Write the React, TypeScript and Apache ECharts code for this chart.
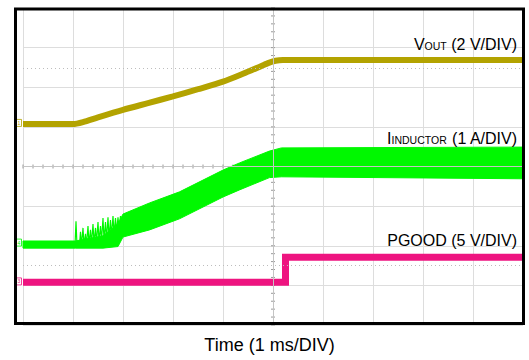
import React, { useEffect, useRef } from "react";
import * as echarts from "echarts";

// time in ms (1 ms/DIV), amplitudes in screen divisions (0 = bottom graticule line)
const voutT = [0, 1.0, 1.2, 1.5, 2.0, 2.5, 3.0, 3.5, 4.0, 4.4, 4.7, 4.9, 5.05, 5.2, 10];
const voutV = [5.07, 5.07, 5.12, 5.24, 5.43, 5.6, 5.77, 5.95, 6.14, 6.34, 6.5, 6.61, 6.67, 6.69, 6.69];

// inductor current ripple envelope
const indT = [0, 1.05, 1.6, 1.9, 2.0, 2.53, 3.13, 4.0, 4.33, 4.93, 5.17, 10];
const indLo = [1.94, 1.94, 1.94, 1.98, 2.22, 2.4, 2.68, 3.23, 3.41, 3.72, 3.74, 3.69];
const indHi = [2.12, 2.12, 2.25, 2.55, 2.8, 3.08, 3.36, 3.91, 4.09, 4.39, 4.47, 4.49];

// start-up spikes of the inductor current
const spikeT = [1.04, 1.06, 1.08, 1.13, 1.15, 1.17, 1.2, 1.22, 1.25, 1.27, 1.3, 1.32, 1.35, 1.37, 1.4, 1.42, 1.45, 1.47, 1.5, 1.52, 1.55, 1.57, 1.6, 1.62, 1.65, 1.67, 1.7, 1.72, 1.75, 1.77, 1.8, 1.82, 1.85, 1.87, 1.9, 1.92, 1.95, 1.97];
const spikeV = [2.0, 2.62, 2.0, 2.02, 2.35, 2.0, 2.45, 2.02, 2.3, 2.02, 2.5, 2.04, 2.4, 2.05, 2.55, 2.06, 2.45, 2.08, 2.6, 2.1, 2.5, 2.12, 2.7, 2.14, 2.6, 2.16, 2.72, 2.2, 2.65, 2.24, 2.75, 2.3, 2.7, 2.35, 2.72, 2.45, 2.75, 2.6];

const pgoodT = [0, 5.25, 5.25, 10];
const pgoodV = [1.08, 1.08, 1.71, 1.71];

const cursorLevels = [6.48, 1.52];
const channelLevels = { vout: 5.1, ind: 2.08, pgood: 1.1 };

const xDivs = 10;
const yDivs = 8;

const OLIVE = "#b3a300";
const GREEN = "#00f800";
const PINK = "#ee1480";
const FONT = 'Arial, "Liberation Sans", sans-serif';

function marker(level: number, label: string, color: string) {
  return {
    silent: true,
    symbol: "rect",
    symbolSize: [5, 7],
    symbolOffset: [-4, 0],
    itemStyle: { color: "#ffffff", borderColor: color, borderWidth: 0.8 },
    label: { show: true, position: "inside", formatter: label, fontSize: 5, color: color, fontFamily: FONT },
    data: [{ coord: [0, level] }],
  };
}

export default function App() {
  const ref = useRef<HTMLDivElement>(null);
  useEffect(() => {
    if (!ref.current) return;
    const chart = echarts.init(ref.current, null, { renderer: "svg" });

    const ticks: number[][] = [];
    for (let i = 0; i <= xDivs * 5; i++) ticks.push([i / 5, 0]);
    for (let i = 0; i <= yDivs * 5; i++) ticks.push([i / 5, 1]);

    const bandData = indT.map((t, i) => [t, indLo[i], indHi[i]]);

    chart.setOption({
      animation: false,
      backgroundColor: "#ffffff",
      grid: { left: 23, top: 8, width: 500, height: 317 },
      xAxis: {
        type: "value", min: 0, max: xDivs, interval: 1,
        axisLine: { show: false }, axisTick: { show: false }, axisLabel: { show: false },
        splitLine: { show: true, lineStyle: { color: "#dddddd", width: 1 } },
      },
      yAxis: {
        type: "value", min: 0, max: yDivs, interval: 1,
        axisLine: { show: false }, axisTick: { show: false }, axisLabel: { show: false },
        splitLine: { show: true, lineStyle: { color: "#dddddd", width: 1 } },
      },
      series: [
        {
          type: "line", data: [], silent: true,
          markLine: {
            silent: true, symbol: "none", label: { show: false },
            data: [
              { yAxis: cursorLevels[0], lineStyle: { type: [1, 3], color: "#bdbdbd", width: 1 } },
              { yAxis: cursorLevels[1], lineStyle: { type: [1, 3], color: "#bdbdbd", width: 1 } },
              { yAxis: yDivs / 2, lineStyle: { type: "solid", color: "#c4c4c4", width: 1 } },
              { xAxis: xDivs / 2, lineStyle: { type: "solid", color: "#c4c4c4", width: 1 } },
            ],
          },
        },
        {
          type: "custom", silent: true, data: ticks,
          renderItem: (params: any, api: any) => {
            const v = api.value(0);
            const o = api.value(1);
            if (o === 0) {
              const p = api.coord([v, yDivs / 2]);
              return { type: "line", shape: { x1: p[0], y1: p[1] - 2, x2: p[0], y2: p[1] + 2 }, style: { stroke: "#9a9a9a", lineWidth: 1 } };
            }
            const p = api.coord([xDivs / 2, v]);
            return { type: "line", shape: { x1: p[0] - 2, y1: p[1], x2: p[0] + 2, y2: p[1] }, style: { stroke: "#9a9a9a", lineWidth: 1 } };
          },
        },
        {
          type: "custom", silent: true, data: bandData,
          encode: { x: 0, y: [1, 2] },
          renderItem: (params: any, api: any) => {
            if (params.dataIndex !== 0) return null;
            const pts: number[][] = [];
            for (let i = 0; i < indT.length; i++) pts.push(api.coord([indT[i], indHi[i]]));
            for (let i = indT.length - 1; i >= 0; i--) pts.push(api.coord([indT[i], indLo[i]]));
            return { type: "polygon", shape: { points: pts }, style: { fill: GREEN, stroke: GREEN, lineWidth: 1 } };
          },
          markPoint: marker(channelLevels.ind, "4", GREEN),
        },
        {
          type: "line", silent: true, symbol: "none",
          data: spikeT.map((t, i) => [t, spikeV[i]]),
          lineStyle: { color: GREEN, width: 1.2 },
        },
        {
          type: "line", silent: true, symbol: "none",
          data: voutT.map((t, i) => [t, voutV[i]]),
          smooth: 0.25,
          lineStyle: { color: OLIVE, width: 6 },
          markPoint: marker(channelLevels.vout, "1", OLIVE),
        },
        {
          type: "line", silent: true, symbol: "none",
          data: pgoodT.map((t, i) => [t, pgoodV[i]]),
          lineStyle: { color: PINK, width: 7, cap: "butt", join: "miter" },
          markPoint: marker(channelLevels.pgood, "3", PINK),
        },
      ],
      graphic: [
        {
          type: "rect", silent: true, z: 100,
          shape: { x: 15.5, y: 9, width: 508, height: 314.5 },
          style: { fill: "none", stroke: "#000000", lineWidth: 3 },
        },
        {
          type: "text", z: 100, x: 517, y: 43,
          style: {
            text: "{a|V}{b|OUT}{a| (2 V/DIV)}",
            align: "right", verticalAlign: "middle",
            rich: {
              a: { fontSize: 16, fontFamily: FONT, fill: "#000", verticalAlign: "bottom", lineHeight: 18 },
              b: { fontSize: 10.5, fontFamily: FONT, fill: "#000", verticalAlign: "bottom", lineHeight: 18, padding: [0, 0, 1, 0] },
            },
          },
        },
        {
          type: "text", z: 100, x: 517, y: 137,
          style: {
            text: "{a|I}{b|INDUCTOR}{a| (1 A/DIV)}",
            align: "right", verticalAlign: "middle",
            rich: {
              a: { fontSize: 16, fontFamily: FONT, fill: "#000", verticalAlign: "bottom", lineHeight: 18 },
              b: { fontSize: 10.5, fontFamily: FONT, fill: "#000", verticalAlign: "bottom", lineHeight: 18, padding: [0, 0, 1, 0] },
            },
          },
        },
        {
          type: "text", z: 100, x: 517, y: 240,
          style: { text: "PGOOD (5 V/DIV)", align: "right", verticalAlign: "middle", fontSize: 16, fontFamily: FONT, fill: "#000" },
        },
        {
          type: "text", z: 100, x: 269.5, y: 345,
          style: { text: "Time (1 ms/DIV)", align: "center", verticalAlign: "middle", fontSize: 18, fontFamily: FONT, fill: "#000" },
        },
      ],
    });
    return () => chart.dispose();
  }, []);
  return (
    <div
      ref={ref}
      style={{ position: "absolute", left: 0, top: 0, width: 529, height: 360, background: "#fff" }}
    />
  );
}
